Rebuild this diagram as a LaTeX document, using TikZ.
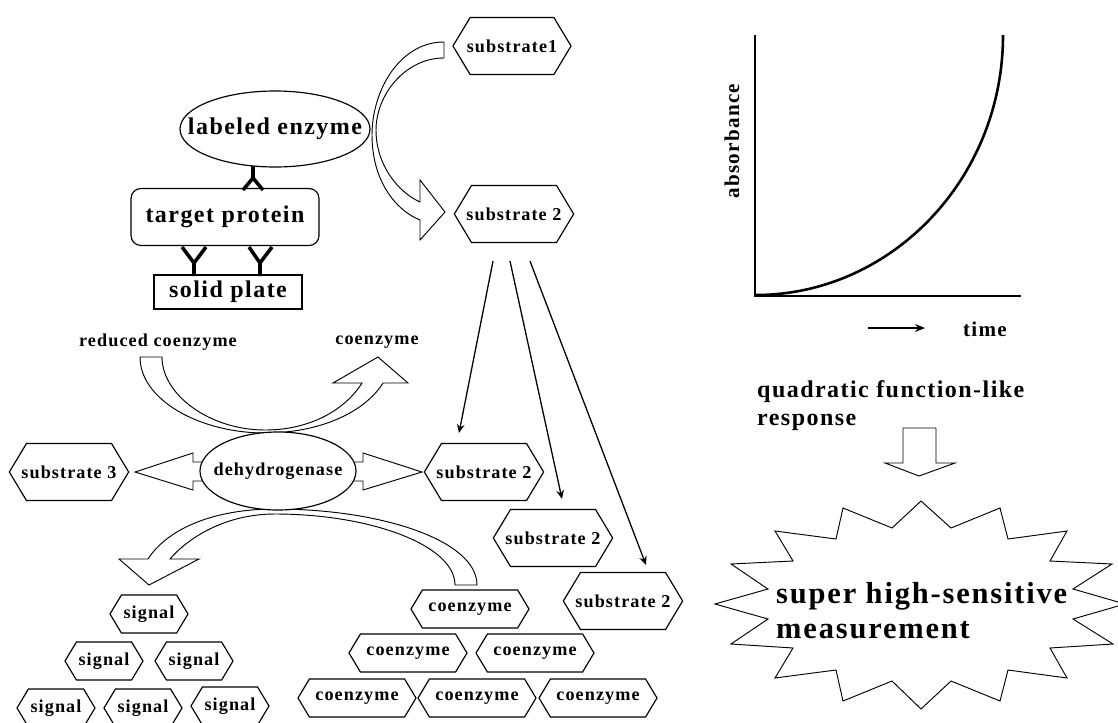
\documentclass[tikz,border=0pt]{standalone}
\usepackage{fontspec}
\setmainfont{Liberation Serif}[LetterSpace=6]
\usetikzlibrary{shapes.geometric,shapes.symbols,arrows.meta,calc}
\newcommand\fs[1]{\bfseries\fontsize{#1}{#1}\selectfont}

\tikzset{
  hexa/.style={draw,line width=1pt,fill=white,signal,signal to=east and west,signal pointer angle=118,
    inner ysep=0pt,inner xsep=-1.5mm,minimum width=35.4mm,minimum height=17.1mm,font=\fs{15.5}},
  smallhexa/.style={hexa,minimum width=35.4mm,minimum height=11.4mm},
  sighexa/.style={hexa,minimum width=23.4mm,minimum height=11.4mm},
  bigarrow/.style={draw,line width=0.8pt,fill=white},
  thinarrow/.style={line width=1.1pt,-{Stealth[length=2.6mm,width=2.3mm]}},
  antibody/.style={line width=3pt},
  ellbox/.style={draw,line width=1pt,fill=white},
  lbl/.style={font=\fs{15.5},inner sep=0pt},
}

\begin{document}
\begin{tikzpicture}[x=0.3mm,y=-0.3mm]
            \useasboundingbox (0,0) rectangle (1118,722);

            %%% CURVED ARROWS %%%
            \draw[bigarrow] (444,42) .. controls (400,42) and (372,90) .. (372,135) .. controls (372,180) and (395,210) .. (420,220)
                -- (420,240) -- (445,212) -- (420,180) -- (420,202)
                .. controls (398,192) and (376,165) .. (376,130) .. controls (376,95) and (405,58) .. (444,58) -- cycle;
            \draw[bigarrow] (140,357) .. controls (140,400) and (200,433) .. (265,433) .. controls (320,433) and (365,412) .. (383,383)
                -- (408,383) -- (378,357) -- (333,383) -- (362,383)
                .. controls (345,410) and (310,430) .. (265,430) .. controls (210,430) and (162,395) .. (162,357) -- cycle;
            \draw[bigarrow] (477,585) .. controls (477,540) and (380,509) .. (275,509) .. controls (215,509) and (168,528) .. (148,559)
                -- (119,559) -- (149,585) -- (199,559) -- (170,559)
                .. controls (188,538) and (225,514) .. (275,514) .. controls (370,514) and (455,545) .. (455,585) -- cycle;

            %%% BLOCK ARROWS %%%
            \draw[bigarrow] (212,462) -- (193,462) -- (193,453) -- (135,472) -- (193,490) -- (193,481) -- (212,481);
            \draw[bigarrow] (345,462) -- (363,462) -- (363,453) -- (422,472) -- (363,490) -- (363,481) -- (345,481);
            \draw[bigarrow] (903,428) -- (936,428) -- (936,463) -- (955,463) -- (919,476) -- (885,463) -- (903,463) -- cycle;

            %%% ANTIBODIES %%%
            \draw[antibody] (253,166) -- (253,178) (243,190) -- (253,178) -- (263,190);
            \draw[antibody] (182,247) -- (194,263) -- (206,247) (194,263) -- (194,276);
            \draw[antibody] (249,247) -- (260,263) -- (272,247) (260,263) -- (260,276);

            %%% TOP NODES %%%
            \coordinate (enzc) at (275,129);
            \draw[ellbox] (enzc) ellipse [x radius=28.5mm,y radius=11.4mm];
            \node[inner sep=0pt,font=\fs{20.5}] (enz) at (enzc) {labeled enzyme};
            \node[draw,rounded corners=3mm,line width=1pt,inner sep=0pt,minimum width=56.4mm,minimum height=17.1mm,font=\fs{20.5}] (tprot) at (225,217) {target protein};
            \node[draw,line width=1pt,inner sep=0pt,minimum width=44.4mm,minimum height=10.2mm,font=\fs{20.5}] (plate) at (228,292) {solid plate};
            \node[hexa] (sub1) at (512,46) {substrate1};
            \node[hexa] (sub2) at (514,214) {substrate 2};

            %%% DEHYDROGENASE %%%
            \node[lbl] (red) at (158,342) {reduced coenzyme};
            \node[lbl] (coen) at (377,342) {coenzyme};
            \coordinate (dehyc) at (278,471);
            \draw[ellbox] (dehyc) ellipse [x radius=23.4mm,y radius=11.7mm];
            \node[inner sep=0pt,font=\fs{15.5}] (dehy) at (dehyc) {dehydrogenase};
            \node[hexa] (sub3) at (69,472) {substrate 3};
            \node[hexa] (sub2b) at (484,472) {substrate 2};
            \node[hexa] (sub2c) at (553,538) {substrate 2};
            \node[hexa] (sub2d) at (623,601) {substrate 2};

            %%% ARROWS %%%
            \draw[thinarrow] ($(sub2.south)+(-21,18)$) -- ($(sub2b.north)+(-25,-10)$);
            \draw[thinarrow] ($(sub2.south)+(-4,18)$) -- ($(sub2c.north)+(9,-10)$);
            \draw[thinarrow] ($(sub2.south)+(16,18)$) -- ($(sub2d.north)+(23,-7)$);

            %%% SIGNALS %%%
            \node[sighexa] (sig1) at (149,614) {signal};
            \node[sighexa] (sig2) at (104,661) {signal};
            \node[sighexa] (sig3) at (194,661) {signal};
            \node[sighexa] (sig4) at (56,708) {signal};
            \node[sighexa] (sig5) at (143,708) {signal};
            \node[sighexa] (sig6) at (230,706) {signal};

            %%% COENZYMES %%%
            \node[smallhexa] (coe1) at (470,609) {coenzyme};
            \node[smallhexa] (coe2) at (408,653) {coenzyme};
            \node[smallhexa] (coe3) at (535,653) {coenzyme};
            \node[smallhexa] (coe4) at (357,698) {coenzyme};
            \node[smallhexa] (coe5) at (477,698) {coenzyme};
            \node[smallhexa] (coe6) at (598,698) {coenzyme};

            %%% GRAPH %%%
            \draw[line width=2.2pt] (755,35) -- (755,296) -- (1021,296);
            \draw[line width=2.2pt] (756,295) .. controls (890,295) and (1003,180) .. (1003,35);
            \node[rotate=90,inner sep=0pt,font=\fs{18}] (absb) at (732,141) {absorbance};
            \node[inner sep=0pt,font=\fs{18}] (time) at (985,329) {time};
            \coordinate (tarrA) at (868,328);
            \coordinate (tarrB) at (925,328);
            \draw[line width=1.8pt,-{Stealth[length=3mm,width=2.4mm]}] (tarrA) -- (tarrB);
            \node[anchor=west,align=left,inner sep=0pt,font=\bfseries\fontsize{20.5}{24}\selectfont] (quad) at (757,406) {quadratic function-like\\response};

            %%% STAR %%%
            \draw[line width=0.8pt] (921,501) -- (951,528) -- (1000,508) -- (1008,539) -- (1067,531) -- (1050,561) -- (1112,564) -- (1073,589)
                -- (1125,604) -- (1073,619) -- (1113,644) -- (1050,648) -- (1067,678) -- (1008,670) -- (1000,701) -- (951,681)
                -- (921,709) -- (892,681) -- (843,701) -- (836,670) -- (775,678) -- (793,648) -- (731,644) -- (768,619)
                -- (715,604) -- (768,589) -- (731,564) -- (793,561) -- (775,531) -- (836,539) -- (843,508) -- (892,528) -- cycle;
            \node[anchor=west,align=left,inner sep=0pt,font=\bfseries\fontsize{26}{30}\selectfont] (meas) at (776,611) {super high-sensitive\\measurement};
\end{tikzpicture}
\end{document}
